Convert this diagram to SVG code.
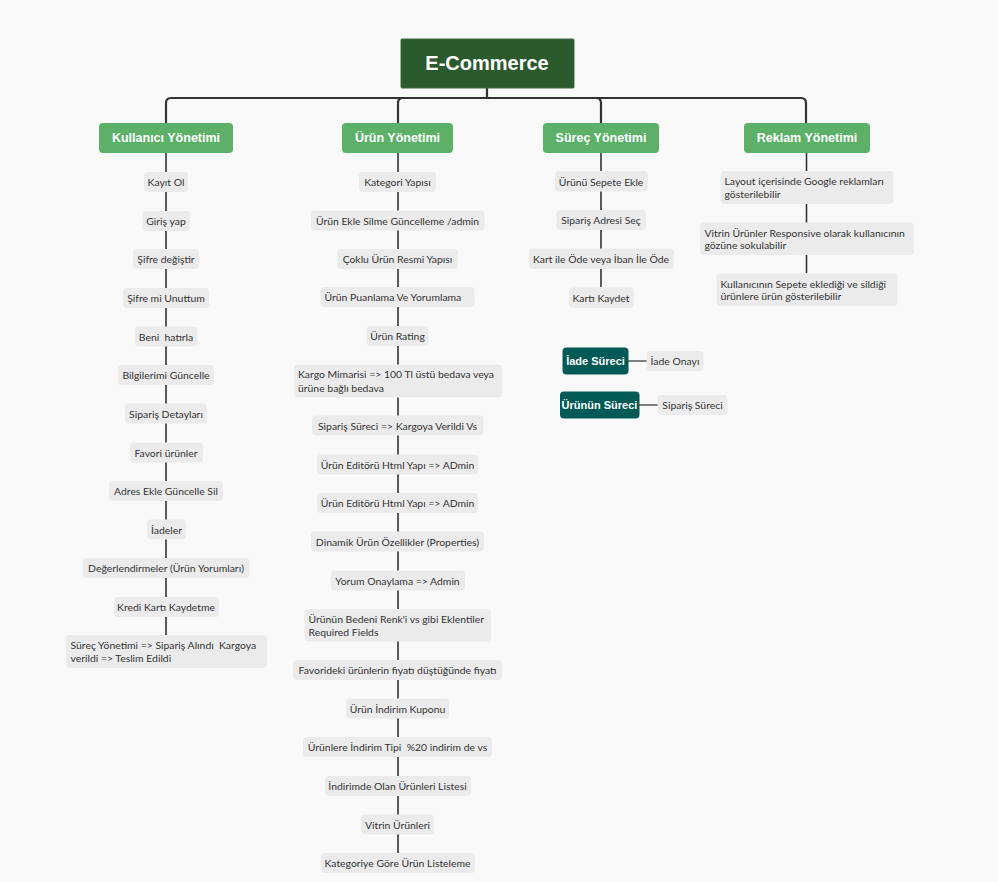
<svg xmlns="http://www.w3.org/2000/svg" width="998" height="882" viewBox="0 0 998 882">
<style>
.bg{fill:#f9f9f9}
.root{fill:#2b5a2e;stroke:#3f6b42;stroke-width:1}
.hdr{fill:#5cb068}
.dk{fill:#015a55}
.it{fill:#ebebeb}
.tr{font-family:"Liberation Sans",Arial,sans-serif;font-weight:bold;font-size:20px;fill:#fff;text-anchor:middle;dominant-baseline:central}
.th{font-family:"Liberation Sans",Arial,sans-serif;font-weight:bold;font-size:12.5px;fill:#fff;text-anchor:middle;dominant-baseline:central}
.td{font-family:"Liberation Sans",Arial,sans-serif;font-weight:bold;font-size:11px;fill:#fff;text-anchor:middle;dominant-baseline:central}
.t{font-family:Lato,"Liberation Sans",sans-serif;font-size:10.4px;fill:#333;text-anchor:middle;dominant-baseline:central}
.tl{font-family:Lato,"Liberation Sans",sans-serif;font-size:10.4px;fill:#333;text-anchor:start;dominant-baseline:central}
.br{fill:none;stroke:#333;stroke-width:2.2}
.sp{fill:none;stroke:#333;stroke-width:1.6}
.ln{fill:none;stroke:#555;stroke-width:1.5}
</style>
<rect class="bg" x="0" y="0" width="998" height="882"/>
<g id="connectors">
<path class="br" d="M487,88 V98 H171 Q166,98 166,103 V123"/>
<path class="br" d="M487,98 H403 Q398,98 398,103 V123"/>
<path class="br" d="M487,98 H596 Q601,98 601,103 V123"/>
<path class="br" d="M487,98 H801 Q806,98 806,103 V123"/>
<path class="sp" d="M166,153 V635"/>
<path class="sp" d="M398,153 V853"/>
<path class="sp" d="M601,153 V287"/>
<path class="sp" d="M806.5,153 V273"/>
<path class="ln" d="M628,361 H647"/>
<path class="ln" d="M639,405 H658"/>
</g>
<g id="root"><rect class="root" x="401" y="39" width="173" height="49" rx="1"/><text class="tr" x="487" y="63">E-Commerce</text></g>
<g id="h-kullanici"><rect class="hdr" x="99" y="123" width="134" height="30" rx="4"/><text class="th" x="166" y="138">Kullanıcı Yönetimi</text></g>
<g id="h-urun"><rect class="hdr" x="342" y="123" width="111" height="30" rx="4"/><text class="th" x="397.5" y="138">Ürün Yönetimi</text></g>
<g id="h-surec"><rect class="hdr" x="543" y="123" width="116" height="30" rx="4"/><text class="th" x="601" y="138">Süreç Yönetimi</text></g>
<g id="h-reklam"><rect class="hdr" x="744" y="123" width="126" height="30" rx="4"/><text class="th" x="807" y="138">Reklam Yönetimi</text></g>

<g id="k1"><rect class="it" x="144" y="172" width="44" height="20" rx="4"/><text class="t" x="166" y="182">Kayıt Ol</text></g>
<g id="k2"><rect class="it" x="142.5" y="211" width="47.5" height="20" rx="4"/><text class="t" x="166" y="221">Giriş yap</text></g>
<g id="k3"><rect class="it" x="133" y="249" width="66" height="20" rx="4"/><text class="t" x="166" y="259">Şifre değiştir</text></g>
<g id="k4"><rect class="it" x="123" y="288" width="86" height="20" rx="4"/><text class="t" x="166" y="298">Şifre mi Unuttum</text></g>
<g id="k5"><rect class="it" x="135" y="326.5" width="62.5" height="20" rx="4"/><text class="t" x="166" y="336.5" xml:space="preserve">Beni  hatırla</text></g>
<g id="k6"><rect class="it" x="118" y="365" width="96" height="20" rx="4"/><text class="t" x="166" y="375">Bilgilerimi Güncelle</text></g>
<g id="k7"><rect class="it" x="125" y="403.5" width="82" height="20" rx="4"/><text class="t" x="166" y="413.5">Sipariş Detayları</text></g>
<g id="k8"><rect class="it" x="130" y="442.5" width="73" height="20" rx="4"/><text class="t" x="166" y="452.5">Favori ürünler</text></g>
<g id="k9"><rect class="it" x="109" y="481" width="114" height="20" rx="4"/><text class="t" x="166" y="491">Adres Ekle Güncelle Sil</text></g>
<g id="k10"><rect class="it" x="147" y="519.5" width="39" height="20" rx="4"/><text class="t" x="166.5" y="529.5">İadeler</text></g>
<g id="k11"><rect class="it" x="82.5" y="558" width="167" height="20" rx="4"/><text class="t" x="166" y="568">Değerlendirmeler (Ürün Yorumları)</text></g>
<g id="k12"><rect class="it" x="114" y="597" width="105" height="20" rx="4"/><text class="t" x="166" y="607">Kredi Kartı Kaydetme</text></g>
<g id="k13"><rect class="it" x="66" y="635" width="201" height="33" rx="4"/><text class="tl" x="70.5" y="645" xml:space="preserve">Süreç Yönetimi =&gt; Sipariş Alındı  Kargoya</text><text class="tl" x="70.5" y="658">verildi =&gt; Teslim Edildi</text></g>

<g id="u1"><rect class="it" x="359" y="172" width="77" height="20" rx="4"/><text class="t" x="397.5" y="182">Kategori Yapısı</text></g>
<g id="u2"><rect class="it" x="311" y="210.5" width="173.5" height="20" rx="4"/><text class="t" x="397.5" y="220.5">Ürün Ekle Silme Güncelleme /admin</text></g>
<g id="u3"><rect class="it" x="337" y="249" width="121" height="20" rx="4"/><text class="t" x="397.5" y="259">Çoklu Ürün Resmi Yapısı</text></g>
<g id="u4"><rect class="it" x="320.5" y="287" width="154" height="20" rx="4"/><text class="tl" x="324.5" y="297">Ürün Puanlama Ve Yorumlama</text></g>
<g id="u5"><rect class="it" x="366.5" y="326" width="62" height="20" rx="4"/><text class="t" x="397.5" y="336">Ürün Rating</text></g>
<g id="u6"><rect class="it" x="294" y="364.5" width="208" height="33" rx="4"/><text class="tl" x="298" y="374">Kargo Mimarisi =&gt; 100 Tl üstü bedava veya</text><text class="tl" x="298" y="387.5">ürüne bağlı bedava</text></g>
<g id="u7"><rect class="it" x="312" y="415.5" width="171.5" height="20" rx="4"/><text class="t" x="397.5" y="425.5">Sipariş Süreci =&gt; Kargoya Verildi Vs</text></g>
<g id="u8"><rect class="it" x="317" y="454.5" width="161" height="20" rx="4"/><text class="t" x="397.5" y="464.5">Ürün Editörü Html Yapı =&gt; ADmin</text></g>
<g id="u9"><rect class="it" x="317" y="493" width="161" height="20" rx="4"/><text class="t" x="397.5" y="503">Ürün Editörü Html Yapı =&gt; ADmin</text></g>
<g id="u10"><rect class="it" x="311" y="531.5" width="173" height="20" rx="4"/><text class="t" x="397.5" y="541.5">Dinamik Ürün Özellikler (Properties)</text></g>
<g id="u11"><rect class="it" x="331" y="570.5" width="134" height="20" rx="4"/><text class="t" x="397.5" y="580.5">Yorum Onaylama =&gt; Admin</text></g>
<g id="u12"><rect class="it" x="304.5" y="609" width="186.5" height="32.5" rx="4"/><text class="tl" x="308.5" y="619">Ürünün Bedeni Renk'i vs gibi Eklentiler</text><text class="tl" x="308.5" y="631.5">Required Fields</text></g>
<g id="u13"><rect class="it" x="293" y="660" width="209" height="20" rx="4"/><text class="t" x="397.5" y="670">Favorideki ürünlerin fiyatı düştüğünde fiyatı</text></g>
<g id="u14"><rect class="it" x="346" y="698.5" width="103" height="20" rx="4"/><text class="t" x="397.5" y="708.5">Ürün İndirim Kuponu</text></g>
<g id="u15"><rect class="it" x="303" y="737" width="189" height="20" rx="4"/><text class="t" x="397.5" y="747" xml:space="preserve">Ürünlere İndirim Tipi  %20 indirim de vs</text></g>
<g id="u16"><rect class="it" x="325" y="776" width="146" height="20" rx="4"/><text class="t" x="397.5" y="786">İndirimde Olan Ürünleri Listesi</text></g>
<g id="u17"><rect class="it" x="361" y="814.5" width="73" height="20" rx="4"/><text class="t" x="397.5" y="824.5">Vitrin Ürünleri</text></g>
<g id="u18"><rect class="it" x="321" y="853" width="154" height="20" rx="4"/><text class="t" x="397.5" y="863">Kategoriye Göre Ürün Listeleme</text></g>

<g id="s1"><rect class="it" x="555" y="171" width="93" height="20.5" rx="4"/><text class="t" x="601" y="181.5">Ürünü Sepete Ekle</text></g>
<g id="s2"><rect class="it" x="556.5" y="210" width="89.5" height="20" rx="4"/><text class="t" x="601" y="220">Sipariş Adresi Seç</text></g>
<g id="s3"><rect class="it" x="529" y="248.5" width="145" height="20.5" rx="4"/><text class="t" x="601" y="259">Kart ile Öde veya İban İle Öde</text></g>
<g id="s4"><rect class="it" x="569" y="287.5" width="65" height="20.5" rx="4"/><text class="t" x="601" y="298">Kartı Kaydet</text></g>

<g id="iade"><rect class="dk" x="562.5" y="347.5" width="66" height="27" rx="4"/><text class="td" x="595.5" y="361">İade Süreci</text></g>
<g id="iade-onay"><rect class="it" x="646.5" y="351" width="57" height="20" rx="4"/><text class="t" x="675" y="361">İade Onayı</text></g>
<g id="urunun"><rect class="dk" x="560" y="391.5" width="79.5" height="27" rx="4"/><text class="td" x="599.5" y="405">Ürünün Süreci</text></g>
<g id="siparis-sureci"><rect class="it" x="657.5" y="395" width="70" height="20" rx="4"/><text class="t" x="692.5" y="405">Sipariş Süreci</text></g>

<g id="r1"><rect class="it" x="720.5" y="171" width="173" height="33" rx="4"/><text class="tl" x="724.5" y="181">Layout içerisinde Google reklamları</text><text class="tl" x="724.5" y="194">gösterilebilir</text></g>
<g id="r2"><rect class="it" x="700" y="222.5" width="214" height="32.5" rx="4"/><text class="tl" x="704.5" y="232.5">Vitrin Ürünler Responsive olarak kullanıcının</text><text class="tl" x="704.5" y="245">gözüne sokulabilir</text></g>
<g id="r3"><rect class="it" x="716.5" y="273.5" width="181" height="32.5" rx="4"/><text class="tl" x="720.5" y="283.5">Kullanıcının Sepete eklediği ve sildiği</text><text class="tl" x="720.5" y="296">ürünlere ürün gösterilebilir</text></g>
</svg>
